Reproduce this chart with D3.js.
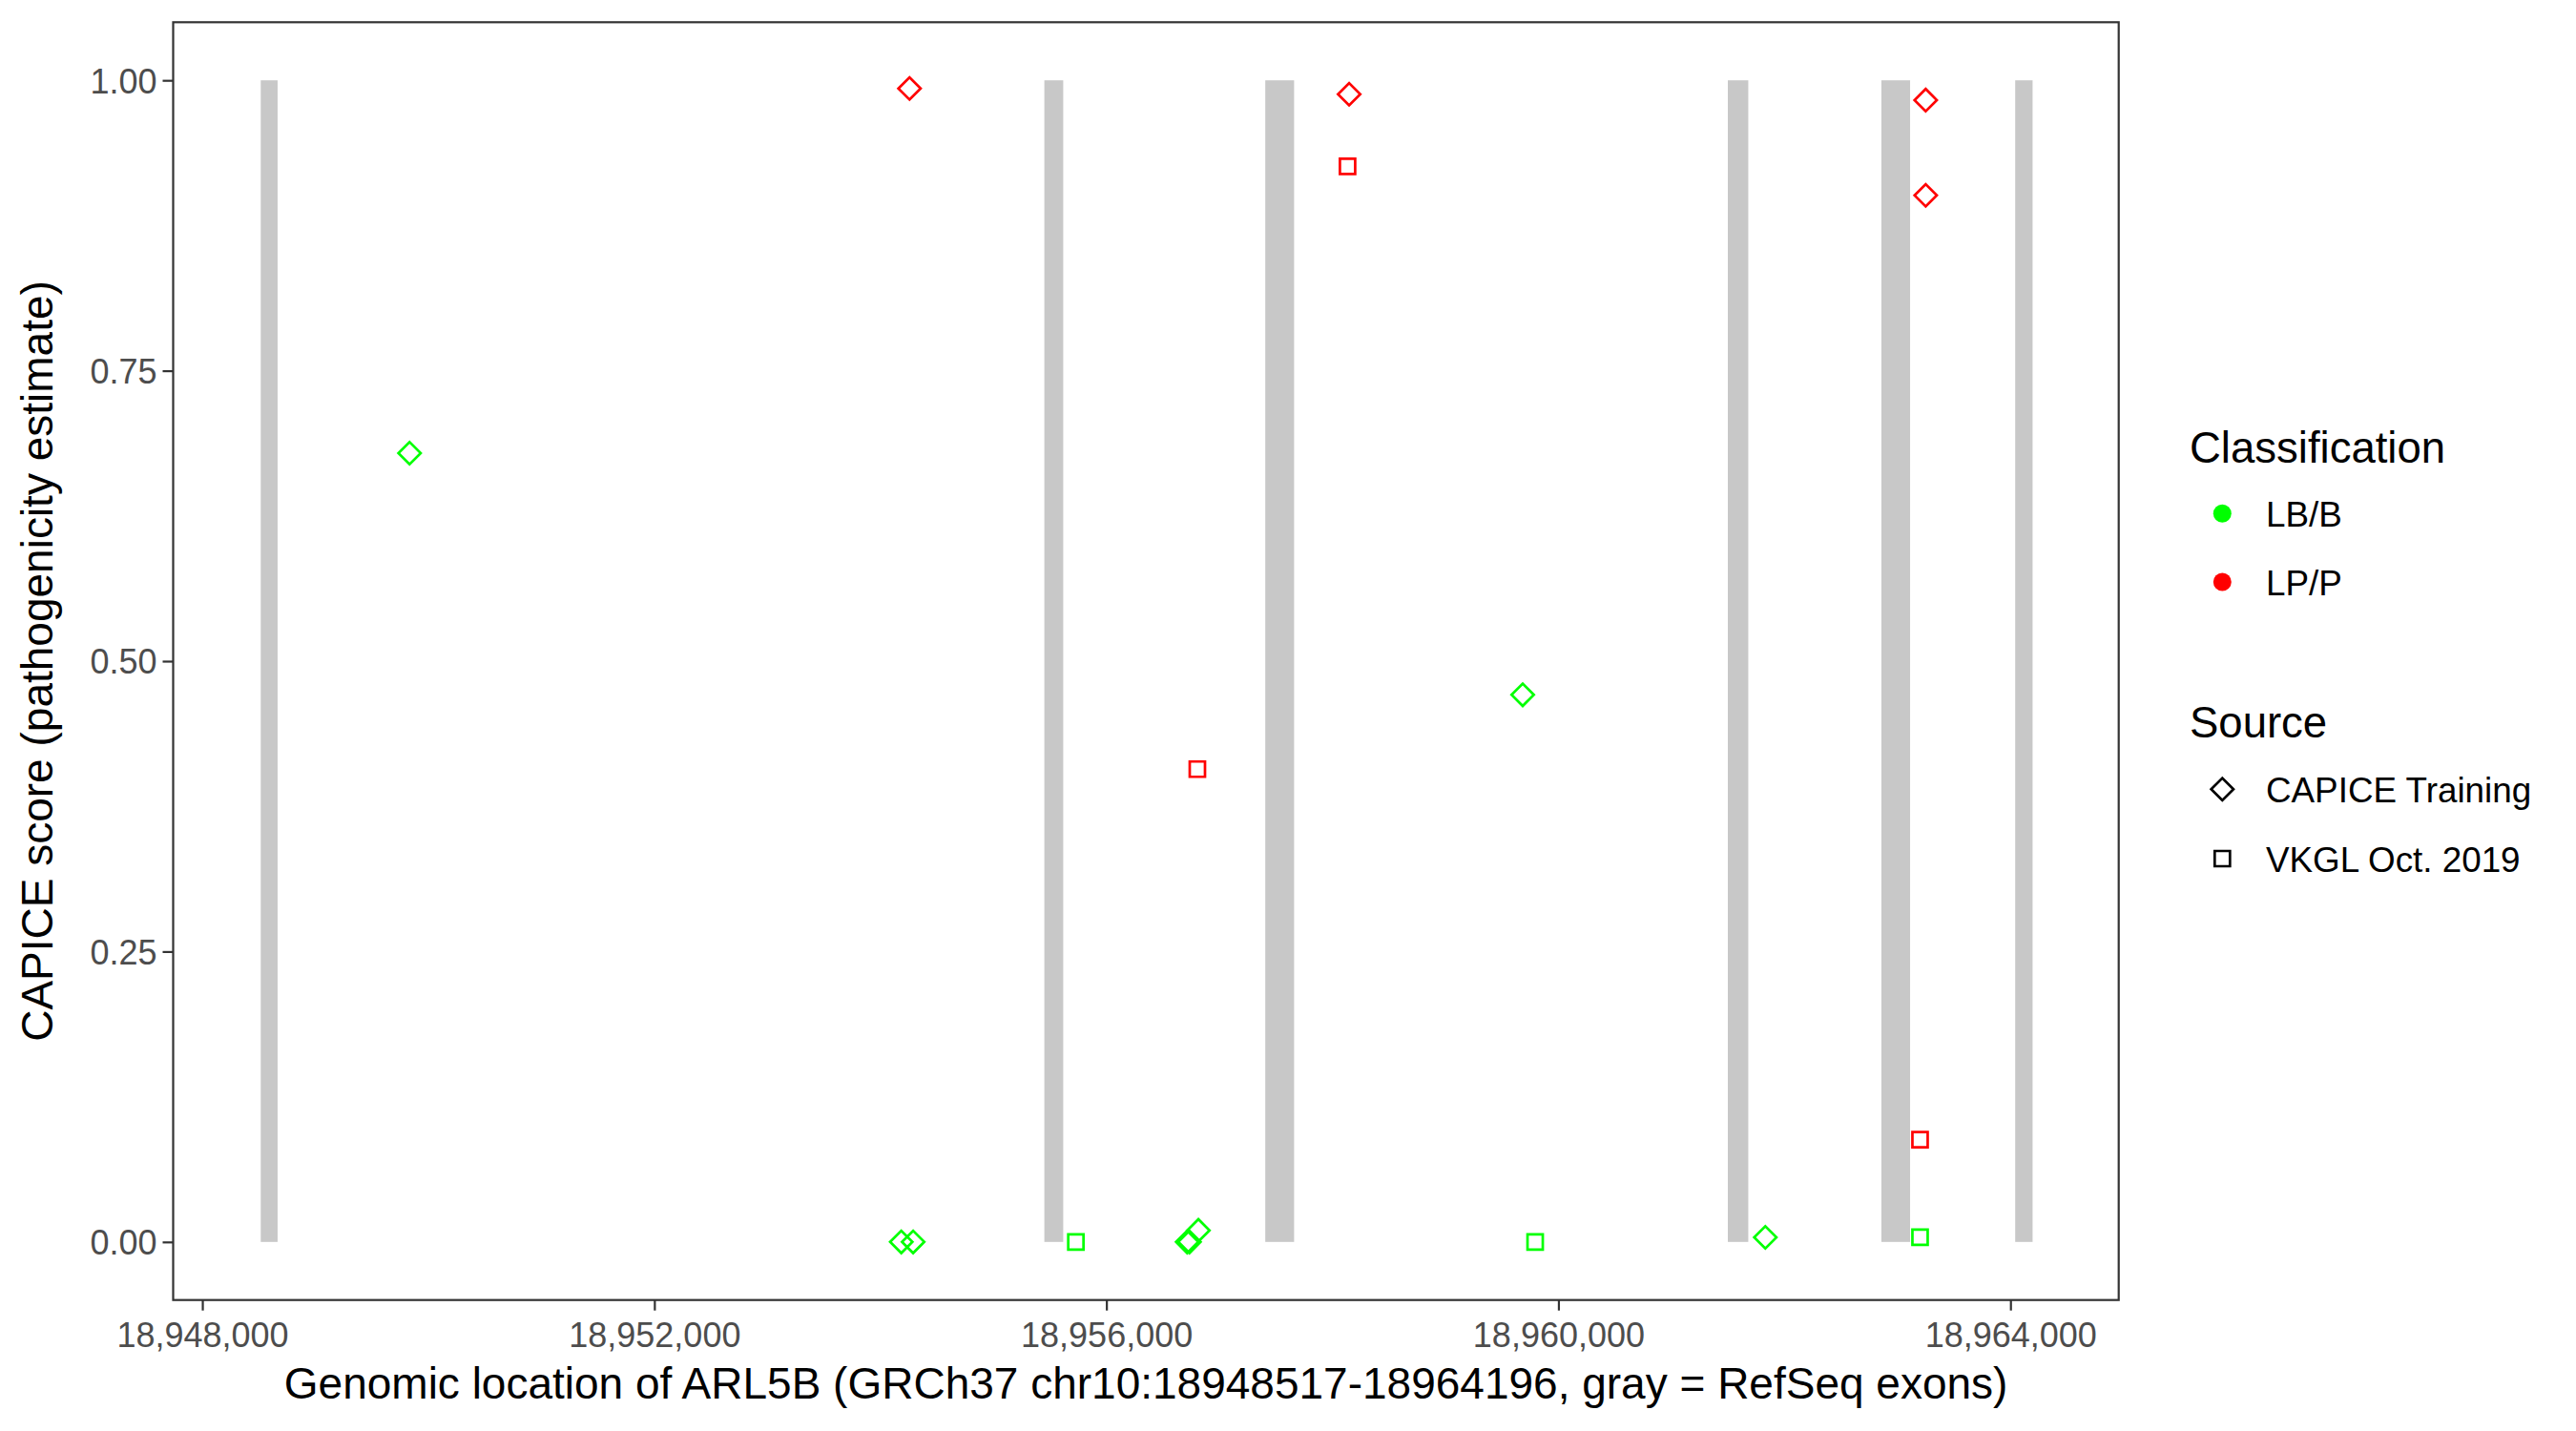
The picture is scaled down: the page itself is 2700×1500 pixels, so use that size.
<!DOCTYPE html>
<html>
<head>
<meta charset="utf-8">
<script src="https://cdn.jsdelivr.net/npm/d3@7"></script>
<style>
  html, body { margin: 0; padding: 0; background: #fff; }
  svg { display: block; font-family: "Liberation Sans", Arial, Helvetica, sans-serif; }
</style>
</head>
<body>
<svg id="chart" width="2700" height="1500"></svg>
<script>
// ---- data ----
const exonStarts = [18948517, 18955451, 18957406, 18961499, 18962858, 18964042];
const exonEnds   = [18948666, 18955618, 18957661, 18961680, 18963112, 18964196];

const variantPos = [18949834, 18954185, 18954290, 18954258, 18955730, 18956715, 18956735, 18956814,
                    18956805, 18958148, 18958134, 18959684, 18959794, 18961831, 18963200, 18963200,
                    18963250, 18963250];
const variantScore = [0.679, 0.000, 0.000, 0.993, 0.000, 0.000, 0.000, 0.010,
                      0.407, 0.988, 0.926, 0.471, 0.000, 0.004, 0.088, 0.004,
                      0.983, 0.901];
const variantClass = ["LB/B", "LB/B", "LB/B", "LP/P", "LB/B", "LB/B", "LB/B", "LB/B",
                      "LP/P", "LP/P", "LP/P", "LB/B", "LB/B", "LB/B", "LP/P", "LB/B",
                      "LP/P", "LP/P"];
const variantSource = ["CAPICE Training", "CAPICE Training", "CAPICE Training", "CAPICE Training", "VKGL Oct. 2019",
                       "CAPICE Training", "CAPICE Training", "CAPICE Training", "VKGL Oct. 2019", "CAPICE Training",
                       "VKGL Oct. 2019", "CAPICE Training", "VKGL Oct. 2019", "CAPICE Training", "VKGL Oct. 2019",
                       "VKGL Oct. 2019", "CAPICE Training", "CAPICE Training"];

const xTicks = [18948000, 18952000, 18956000, 18960000, 18964000];
const yTicks = [0, 0.25, 0.5, 0.75, 1];
const classLevels = ["LB/B", "LP/P"];
const sourceLevels = ["CAPICE Training", "VKGL Oct. 2019"];

const xTitle = "Genomic location of ARL5B (GRCh37 chr10:18948517-18964196, gray = RefSeq exons)";
const yTitle = "CAPICE score (pathogenicity estimate)";

// ---- layout ----
const panel = { left: 181.5, right: 2220.7, top: 23.3, bottom: 1362.7 };
const svg = d3.select("#chart");

const x = d3.scaleLinear().domain([18947742, 18964958]).range([panel.left, panel.right]);
const y = d3.scaleLinear().domain([-0.05, 1.05]).range([panel.bottom, panel.top]);
const color = d3.scaleOrdinal().domain(classLevels).range(["#00FF00", "#FF0000"]);

const symSquare = d3.symbol().type(d3.symbolSquare).size(256)();
const symDiamond = d3.symbol().type(d3.symbolSquare).size(272)();
function shapePath(src) { return src === "CAPICE Training" ? symDiamond : symSquare; }
function shapeRot(src) { return src === "CAPICE Training" ? 45 : 0; }

// exons
svg.append("g").selectAll("rect")
  .data(exonStarts.map((s, i) => ({ s, e: exonEnds[i] })))
  .join("rect")
  .attr("x", d => x(d.s))
  .attr("width", d => x(d.e) - x(d.s))
  .attr("y", y(1))
  .attr("height", y(0) - y(1))
  .attr("fill", "#C8C8C8");

// points
const pts = variantPos.map((p, i) => ({ p, s: variantScore[i], c: variantClass[i], src: variantSource[i] }));
svg.append("g").selectAll("path")
  .data(pts)
  .join("path")
  .attr("d", d => shapePath(d.src))
  .attr("transform", d => `translate(${x(d.p)},${y(d.s)}) rotate(${shapeRot(d.src)})`)
  .attr("fill", "none")
  .attr("stroke", d => color(d.c))
  .attr("stroke-width", 2.7);

// panel border
svg.append("rect")
  .attr("x", panel.left).attr("y", panel.top)
  .attr("width", panel.right - panel.left).attr("height", panel.bottom - panel.top)
  .attr("fill", "none").attr("stroke", "#333333").attr("stroke-width", 2.2);

// axes
const xAxis = svg.append("g")
  .attr("transform", `translate(0,${panel.bottom})`)
  .call(d3.axisBottom(x).tickValues(xTicks).tickFormat(d3.format(",")).tickSize(11).tickPadding(5).tickSizeOuter(0));
const yAxis = svg.append("g")
  .attr("transform", `translate(${panel.left},0)`)
  .call(d3.axisLeft(y).tickValues(yTicks).tickFormat(d3.format(".2f")).tickSize(11).tickPadding(6).tickSizeOuter(0));
[xAxis, yAxis].forEach(g => {
  g.select(".domain").remove();
  g.selectAll(".tick line").attr("stroke", "#333333").attr("stroke-width", 2.2);
  g.selectAll(".tick text").attr("fill", "#4D4D4D").attr("font-size", 36)
    .attr("font-family", "'Liberation Sans', Arial, sans-serif");
});
xAxis.selectAll(".tick text").attr("dy", null).attr("y", 49);
yAxis.selectAll(".tick text").attr("dy", "0.36em");

// axis titles
svg.append("text")
  .attr("x", (panel.left + panel.right) / 2).attr("y", 1466)
  .attr("text-anchor", "middle").attr("font-size", 46).attr("fill", "#000")
  .text(xTitle);
svg.append("text")
  .attr("transform", `translate(55,${(panel.top + panel.bottom) / 2}) rotate(-90)`)
  .attr("text-anchor", "middle").attr("font-size", 46).attr("fill", "#000")
  .text(yTitle);

// legend
const lg = svg.append("g");
const keyX = 2329.3, labX = 2375;
lg.append("text").attr("x", 2295).attr("y", 485).attr("font-size", 45.5).text("Classification");
const classY = [538.3, 610];
classLevels.forEach((c, i) => {
  lg.append("circle").attr("cx", keyX).attr("cy", classY[i]).attr("r", 9.5).attr("fill", color(c));
  lg.append("text").attr("x", labX).attr("y", classY[i] + 13.5).attr("font-size", 36.8).text(c);
});
lg.append("text").attr("x", 2295).attr("y", 773).attr("font-size", 45.5).text("Source");
const srcY = [827.3, 900];
sourceLevels.forEach((s, i) => {
  lg.append("path").attr("d", shapePath(s))
    .attr("transform", `translate(${keyX},${srcY[i]}) rotate(${shapeRot(s)})`)
    .attr("fill", "none").attr("stroke", "#000").attr("stroke-width", 2.7);
  lg.append("text").attr("x", labX).attr("y", srcY[i] + 13.5).attr("font-size", 36.8).text(s);
});
</script>
</body>
</html>
